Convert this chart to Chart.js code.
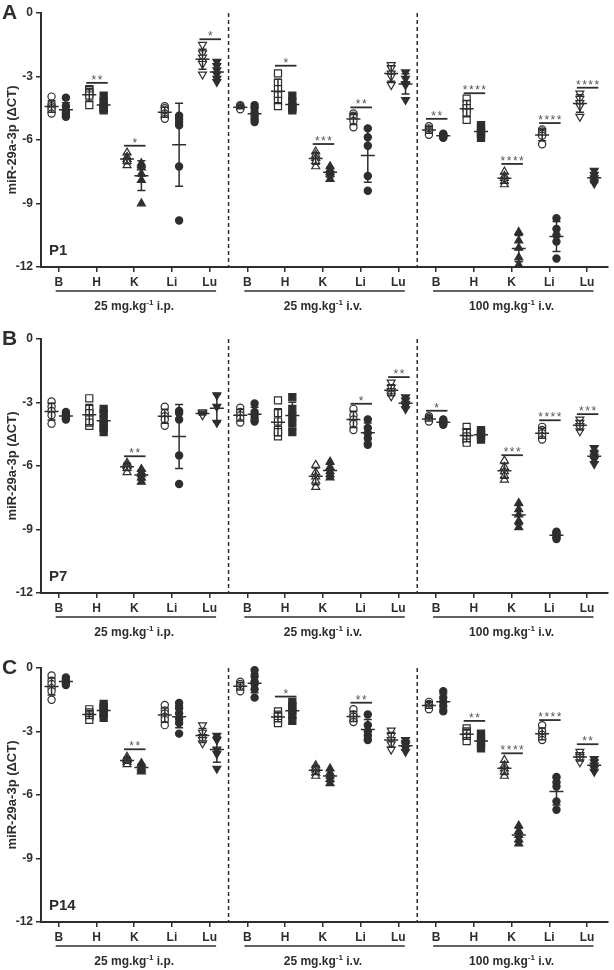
<!DOCTYPE html>
<html>
<head>
<meta charset="utf-8">
<script src="https://cdn.jsdelivr.net/npm/chart.js@4.4.0/dist/chart.umd.min.js"></script>
<style>
  body { margin: 0; background: #fff; }
  .panel { position: absolute; left: 0; width: 614px; height: 315px; }
</style>
</head>
<body>
<div class="panel" style="top:0"><canvas id="chartA" width="614" height="315"></canvas></div>
<div class="panel" style="top:326px"><canvas id="chartB" width="614" height="315"></canvas></div>
<div class="panel" style="top:655px"><canvas id="chartC" width="614" height="315"></canvas></div>
<script>
const tissues = ['B', 'H', 'K', 'Li', 'Lu'];
const doseLabels = ['25 mg.kg', '25 mg.kg', '100 mg.kg'];
const routeLabels = ['i.p.', 'i.v.', 'i.v.'];
const yTicks = [0, -3, -6, -9, -12];

// P1 - open = control, filled = treated; one inner list per tissue (B, H, K, Li, Lu)
const p1OpenIP = [
  [-3.95, -4.3, -4.4, -4.5, -4.6, -4.75],
  [-3.6, -3.65, -3.8, -3.9, -4.35],
  [-6.6, -6.8, -6.9, -7.0, -7.2],
  [-4.4, -4.5, -4.6, -4.75, -4.9, -5.0],
  [-1.5, -1.9, -2.1, -2.3, -2.4, -2.9]
];
const p1FilledIP = [
  [-4.0, -4.4, -4.6, -4.7, -4.8, -4.9],
  [-3.9, -4.2, -4.35, -4.5, -4.6, -4.5],
  [-7.1, -7.2, -7.3, -7.6, -7.9, -9.0],
  [-4.85, -5.0, -5.15, -5.3, -7.25, -9.8],
  [-2.3, -2.5, -2.7, -2.9, -3.1, -3.25]
];
const p1OpenIV25 = [
  [-4.35, -4.4, -4.45, -4.5, -4.55],
  [-2.85, -3.3, -3.6, -3.9, -4.15, -4.4],
  [-6.55, -6.7, -6.85, -7.0, -7.25],
  [-4.75, -4.85, -4.95, -5.1, -5.4],
  [-2.45, -2.6, -2.85, -3.0, -3.4]
];
const p1FilledIV25 = [
  [-4.35, -4.5, -4.7, -4.85, -5.0, -5.15],
  [-3.9, -4.2, -4.4, -4.5, -4.6],
  [-7.25, -7.4, -7.5, -7.6, -7.85],
  [-5.45, -5.87, -6.27, -7.7, -8.4],
  [-2.8, -3.1, -3.35, -3.4, -4.1]
];
const p1OpenIV100 = [
  [-5.35, -5.45, -5.5, -5.6, -5.75],
  [-4.05, -4.3, -4.5, -4.7, -5.05],
  [-7.5, -7.7, -7.8, -7.95, -8.1],
  [-5.5, -5.6, -5.7, -5.8, -6.2],
  [-3.8, -4.05, -4.25, -4.4, -4.9]
];
const p1FilledIV100 = [
  [-5.7, -5.75, -5.8, -5.85, -5.9],
  [-5.3, -5.45, -5.6, -5.75, -5.9],
  [-10.35, -10.75, -11.1, -11.55, -11.9],
  [-9.7, -10.2, -10.5, -10.8, -11.6],
  [-7.45, -7.65, -7.8, -7.95, -8.05]
];
// [category index 0-14, bar level, stars]
const p1Sig = [[1, -3.3, '**'], [2, -6.27, '*'], [4, -1.24, '*'], [6, -2.49, '*'], [7, -6.19, '***'],
  [8, -4.46, '**'], [10, -5.0, '**'], [11, -3.79, '****'], [12, -7.13, '****'], [13, -5.2, '****'], [14, -3.53, '****']];

// P7
const p7OpenIP = [
  [-2.95, -3.2, -3.4, -3.6, -4.0],
  [-2.8, -3.3, -3.5, -3.8, -4.1, -3.95],
  [-5.85, -5.95, -6.0, -6.1, -6.3],
  [-3.2, -3.5, -3.65, -3.8, -4.1],
  [-3.45, -3.5, -3.55, -3.6]
];
const p7FilledIP = [
  [-3.45, -3.55, -3.65, -3.75, -3.8],
  [-3.3, -3.5, -3.8, -4.0, -4.2, -4.4],
  [-6.15, -6.3, -6.4, -6.55, -6.75],
  [-3.4, -3.5, -3.8, -5.5, -6.85],
  [-2.65, -3.2, -3.95]
];
const p7OpenIV25 = [
  [-3.25, -3.45, -3.6, -3.75, -3.95],
  [-2.9, -3.5, -3.9, -4.3, -4.6, -4.4],
  [-5.95, -6.3, -6.5, -6.7, -7.0],
  [-3.3, -3.6, -3.8, -4.0, -4.3],
  [-2.05, -2.3, -2.45, -2.6, -2.7]
];
const p7FilledIV25 = [
  [-3.05, -3.45, -3.6, -3.75, -3.9],
  [-2.75, -3.3, -3.65, -4.0, -4.4],
  [-5.8, -6.05, -6.25, -6.4, -6.55],
  [-3.8, -4.2, -4.45, -4.7, -5.0],
  [-2.75, -2.9, -3.05, -3.15, -3.3]
];
const p7OpenIV100 = [
  [-3.65, -3.72, -3.78, -3.85, -3.9],
  [-4.15, -4.4, -4.6, -4.75, -4.9],
  [-5.75, -6.05, -6.25, -6.45, -6.65],
  [-4.15, -4.3, -4.45, -4.6, -4.75],
  [-3.8, -3.95, -4.1, -4.2, -4.35]
];
const p7FilledIV100 = [
  [-3.8, -3.88, -3.93, -3.98, -4.05],
  [-4.3, -4.4, -4.5, -4.65, -4.75],
  [-7.75, -8.05, -8.3, -8.6, -8.9],
  [-9.1, -9.2, -9.25, -9.35, -9.45],
  [-5.15, -5.4, -5.55, -5.7, -5.9]
];
const p7Sig = [[2, -5.54, '**'], [8, -3.06, '*'], [9, -1.8, '**'], [10, -3.39, '*'],
  [12, -5.49, '***'], [13, -3.84, '****'], [14, -3.55, '***']];

// P14
const p14OpenIP = [
  [-0.35, -0.6, -0.75, -0.95, -1.1, -1.5],
  [-1.95, -2.1, -2.2, -2.3, -2.45],
  [-4.2, -4.3, -4.35, -4.45, -4.55],
  [-1.75, -2.0, -2.15, -2.3, -2.45, -2.7],
  [-2.7, -3.05, -3.25, -3.4, -3.55]
];
const p14FilledIP = [
  [-0.45, -0.55, -0.65, -0.72, -0.8],
  [-1.7, -1.85, -2.0, -2.15, -2.35],
  [-4.5, -4.6, -4.7, -4.8, -4.9],
  [-1.65, -1.9, -2.15, -2.4, -2.6, -3.1],
  [-3.2, -3.4, -3.85, -4.05, -4.75]
];
const p14OpenIV25 = [
  [-0.65, -0.75, -0.85, -0.95, -1.1],
  [-2.05, -2.2, -2.3, -2.45, -2.6],
  [-4.6, -4.7, -4.8, -4.95, -5.1],
  [-1.95, -2.2, -2.3, -2.45, -2.55],
  [-2.95, -3.2, -3.4, -3.6, -3.85]
];
const p14FilledIV25 = [
  [-0.1, -0.4, -0.65, -0.75, -1.0, -1.4],
  [-1.6, -1.8, -2.0, -2.2, -2.5],
  [-4.75, -4.95, -5.1, -5.25, -5.45],
  [-2.2, -2.7, -3.0, -3.2, -3.4],
  [-3.4, -3.55, -3.65, -3.8, -3.95]
];
const p14OpenIV100 = [
  [-1.6, -1.7, -1.75, -1.85, -1.95],
  [-2.85, -3.0, -3.1, -3.25, -3.45],
  [-4.35, -4.6, -4.75, -4.9, -5.1],
  [-2.7, -3.0, -3.15, -3.3, -3.4],
  [-3.95, -4.1, -4.2, -4.3, -4.45]
];
const p14FilledIV100 = [
  [-1.1, -1.4, -1.6, -1.8, -2.05],
  [-3.1, -3.3, -3.45, -3.6, -3.8],
  [-7.45, -7.7, -7.9, -8.1, -8.3],
  [-5.15, -5.4, -5.6, -6.3, -6.7],
  [-4.3, -4.45, -4.6, -4.75, -4.9]
];
const p14Sig = [[2, -3.84, '**'], [6, -1.35, '*'], [8, -1.64, '**'], [11, -2.5, '**'],
  [12, -4.03, '****'], [13, -2.46, '****'], [14, -3.6, '**']];

const ink = '#2e2e2e';
const font = "'Liberation Sans', Arial, sans-serif";
const shapes = ['circle', 'rect', 'triangle', 'circle', 'triangle'];
const rotations = [0, 0, 0, 0, 180];
const radii = [3.6, 5, 4.6, 3.6, 4.6];

function meanSd(arr) {
  const m = arr.reduce((a, b) => a + b, 0) / arr.length;
  const v = arr.reduce((a, b) => a + (b - m) * (b - m), 0) / (arr.length - 1);
  return [m, Math.sqrt(v)];
}

function makePanel(id, letter, tag, openSets, filledSets, sig) {
  const datasets = [];
  const bars = [];
  tissues.forEach((name, t) => {
    [[openSets, -0.19, '#fff'], [filledSets, 0.19, ink]].forEach(([sets, off, fill]) => {
      const pts = [];
      sets.forEach((grp, g) => {
        const x = g * 5 + t + off;
        grp[t].forEach(v => pts.push({x: x, y: v}));
        bars.push([x, ...meanSd(grp[t])]);
      });
      datasets.push({
        label: name,
        data: pts,
        pointStyle: shapes[t],
        pointRotation: rotations[t],
        pointRadius: radii[t],
        pointBorderWidth: 1.2,
        pointBackgroundColor: fill,
        pointBorderColor: ink,
        clip: false
      });
    });
  });

  const decor = {
    id: 'decor',
    afterDatasetsDraw(chart) {
      const ctx = chart.ctx, xs = chart.scales.x, ys = chart.scales.y, area = chart.chartArea;
      ctx.save();
      ctx.strokeStyle = ink;
      ctx.lineWidth = 1.5;
      bars.forEach(([x, m, s]) => {
        const px = xs.getPixelForValue(x);
        const top = ys.getPixelForValue(m + s), bot = ys.getPixelForValue(m - s), mid = ys.getPixelForValue(m);
        ctx.beginPath();
        ctx.moveTo(px, top); ctx.lineTo(px, bot);
        ctx.moveTo(px - 4, top); ctx.lineTo(px + 4, top);
        ctx.moveTo(px - 4, bot); ctx.lineTo(px + 4, bot);
        ctx.moveTo(px - 7, mid); ctx.lineTo(px + 7, mid);
        ctx.stroke();
      });
      // dashed dose separators
      ctx.setLineDash([4, 3]);
      [4.5, 9.5].forEach(v => {
        const px = xs.getPixelForValue(v);
        ctx.beginPath(); ctx.moveTo(px, area.top); ctx.lineTo(px, area.bottom); ctx.stroke();
      });
      ctx.setLineDash([]);
      // significance bars
      ctx.font = '12px ' + font;
      ctx.letterSpacing = '1.5px';
      ctx.textAlign = 'center';
      ctx.textBaseline = 'alphabetic';
      sig.forEach(([i, y, stars]) => {
        const x0 = xs.getPixelForValue(i - 0.27), x1 = xs.getPixelForValue(i + 0.3), py = ys.getPixelForValue(y);
        ctx.strokeStyle = ink;
        ctx.lineWidth = 1.8;
        ctx.beginPath(); ctx.moveTo(x0, py); ctx.lineTo(x1, py); ctx.stroke();
        ctx.fillStyle = '#555';
        ctx.fillText(stars, (x0 + x1) / 2 + 0.75, py + 1);
      });
      ctx.restore();
    },
    afterDraw(chart) {
      const ctx = chart.ctx, xs = chart.scales.x, area = chart.chartArea;
      ctx.save();
      ctx.fillStyle = ink;
      ctx.strokeStyle = ink;
      ctx.lineWidth = 1.5;
      doseLabels.forEach((dose, g) => {
        const x0 = xs.getPixelForValue(g * 5 - 0.08), x1 = xs.getPixelForValue(g * 5 + 4.17);
        const ly = area.bottom + 24;
        ctx.beginPath(); ctx.moveTo(x0, ly); ctx.lineTo(x1, ly); ctx.stroke();
        const cx = xs.getPixelForValue(g * 5 + 2);
        const base = area.bottom + 43;
        const tail = ' ' + routeLabels[g];
        ctx.font = 'bold 12px ' + font;
        const wa = ctx.measureText(dose).width, wb = ctx.measureText(tail).width;
        ctx.font = 'bold 8px ' + font;
        const ws = ctx.measureText('-1').width;
        let x = cx - (wa + ws + wb) / 2;
        ctx.textAlign = 'left';
        ctx.textBaseline = 'alphabetic';
        ctx.font = 'bold 12px ' + font;
        ctx.fillText(dose, x, base);
        x += wa;
        ctx.font = 'bold 8px ' + font;
        ctx.fillText('-1', x, base - 5);
        x += ws;
        ctx.font = 'bold 12px ' + font;
        ctx.fillText(tail, x, base);
      });
      // panel letter and age tag
      ctx.font = 'bold 21px ' + font;
      ctx.fillText(letter, 2, 19);
      ctx.font = 'bold 15px ' + font;
      ctx.fillText(tag, 49, area.bottom - 12);
      // y title
      ctx.translate(12, (area.top + area.bottom) / 2);
      ctx.rotate(-Math.PI / 2);
      ctx.textAlign = 'center';
      ctx.textBaseline = 'middle';
      ctx.font = 'bold 13px ' + font;
      ctx.fillText('miR-29a-3p (\u0394CT)', 0, 0);
      ctx.restore();
    }
  };

  new Chart(document.getElementById(id), {
    type: 'scatter',
    data: { datasets: datasets },
    options: {
      responsive: false,
      animation: false,
      layout: { padding: { top: 13, left: 0, right: 0, bottom: 0 } },
      plugins: { legend: { display: false }, tooltip: { enabled: false } },
      scales: {
        x: {
          type: 'linear',
          min: -0.47,
          max: 14.55,
          afterBuildTicks: (scale) => { scale.ticks = tissues.concat(tissues, tissues).map((n, i) => ({ value: i })); },
          afterFit: (scale) => { scale.height = 48; },
          ticks: {
            autoSkip: false,
            maxRotation: 0,
            padding: 3,
            color: ink,
            font: { family: font, size: 12, weight: 'bold' },
            callback: (v) => tissues[Math.round(v) % 5]
          },
          grid: { drawOnChartArea: false, drawTicks: true, tickLength: 5, color: ink, lineWidth: 1.5 },
          border: { color: ink, width: 2 }
        },
        y: {
          min: -12,
          max: 0,
          afterBuildTicks: (scale) => { scale.ticks = yTicks.map(v => ({ value: v })); },
          afterFit: (scale) => { scale.width = 41; },
          ticks: {
            padding: 3,
            color: ink,
            font: { family: font, size: 12, weight: 'bold' }
          },
          grid: { drawOnChartArea: false, drawTicks: true, tickLength: 5, color: ink, lineWidth: 1.5 },
          border: { color: ink, width: 2 }
        }
      }
    },
    plugins: [decor]
  });
}

makePanel('chartA', 'A', 'P1', [p1OpenIP, p1OpenIV25, p1OpenIV100], [p1FilledIP, p1FilledIV25, p1FilledIV100], p1Sig);
makePanel('chartB', 'B', 'P7', [p7OpenIP, p7OpenIV25, p7OpenIV100], [p7FilledIP, p7FilledIV25, p7FilledIV100], p7Sig);
makePanel('chartC', 'C', 'P14', [p14OpenIP, p14OpenIV25, p14OpenIV100], [p14FilledIP, p14FilledIV25, p14FilledIV100], p14Sig);
</script>
</body>
</html>
